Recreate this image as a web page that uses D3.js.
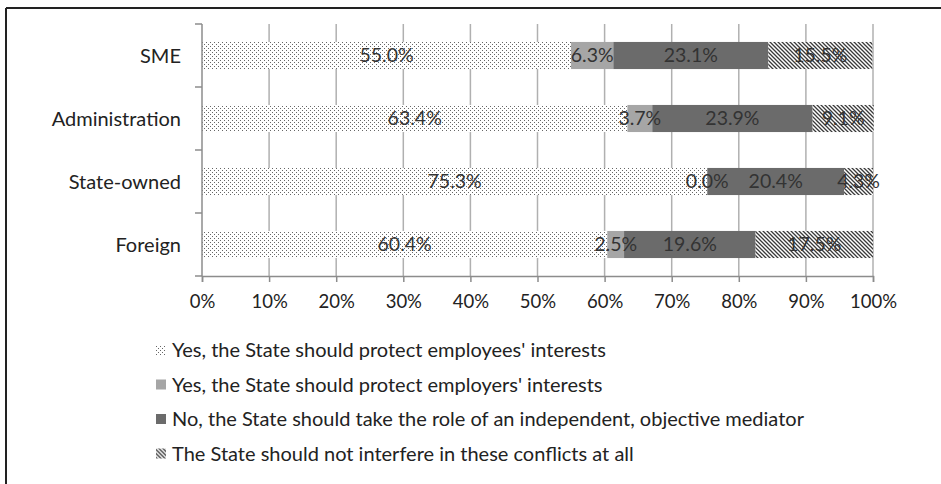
<!DOCTYPE html>
<html>
<head>
<meta charset="utf-8">
<script src="https://cdn.jsdelivr.net/npm/d3@7"></script>
<style>
  html, body { margin: 0; padding: 0; background: #fff; }
  svg { display: block; font-family: Lato, "Open Sans", sans-serif; }
</style>
</head>
<body>
<svg id="chart" width="941" height="484"></svg>
<script>
// Survey answers by company type (percent of respondents)
const categories = ["SME", "Administration", "State-owned", "Foreign"];
const seriesNames = [
  "Yes, the State should protect employees' interests",
  "Yes, the State should protect employers' interests",
  "No, the State should take the role of an independent, objective mediator",
  "The State should not interfere in these conflicts at all"
];
const employeesValues = [55.0, 63.4, 75.3, 60.4];
const employersValues = [6.3, 3.7, 0.0, 2.5];
const mediatorValues  = [23.1, 23.9, 20.4, 19.6];
const noInterfereValues = [15.5, 9.1, 4.3, 17.5];
const xTicks = [0, 10, 20, 30, 40, 50, 60, 70, 80, 90, 100];

const seriesValues = [employeesValues, employersValues, mediatorValues, noInterfereValues];
const fills = ["url(#dots)", "#a6a6a6", "#6b6b6b", "url(#hatch)"];

const svg = d3.select("#chart");

// Fill patterns
const defs = svg.append("defs");
const dots = defs.append("pattern").attr("id", "dots")
  .attr("patternUnits", "userSpaceOnUse").attr("width", 4).attr("height", 4);
dots.append("rect").attr("width", 4).attr("height", 4).attr("fill", "#fff");
dots.append("rect").attr("x", 0).attr("y", 0).attr("width", 1).attr("height", 1).attr("fill", "#666");
dots.append("rect").attr("x", 2).attr("y", 2).attr("width", 1).attr("height", 1).attr("fill", "#666");

const hatch = defs.append("pattern").attr("id", "hatch")
  .attr("patternUnits", "userSpaceOnUse").attr("width", 4).attr("height", 4);
hatch.append("rect").attr("width", 4).attr("height", 4).attr("fill", "#fff");
hatch.append("path").attr("d", "M-1,-1 L5,5 M-1,3 L1,5 M3,-1 L5,1")
  .attr("stroke", "#3a3a3a").attr("stroke-width", 1.3);

// Frame lines
svg.append("line").attr("x1", 6).attr("x2", 941).attr("y1", 8).attr("y2", 8)
  .attr("stroke", "#222").attr("stroke-width", 2);
svg.append("line").attr("x1", 6).attr("x2", 6).attr("y1", 8).attr("y2", 484)
  .attr("stroke", "#222").attr("stroke-width", 2);

const x = d3.scaleLinear().domain([0, 100]).range([202, 873]);
const y = d3.scaleBand().domain(categories).range([24, 276])
  .paddingInner(0.57).paddingOuter(0.285);

const plotTop = y.range()[0], plotBottom = y.range()[1];

// Vertical gridlines
svg.append("g").selectAll("line").data(xTicks.slice(1)).join("line")
  .attr("x1", d => x(d)).attr("x2", d => x(d))
  .attr("y1", plotTop).attr("y2", plotBottom)
  .attr("stroke", "#b0b0b0").attr("stroke-width", 1.5);

// Stacked bars
const rows = categories.map((c, i) => {
  let acc = 0;
  return seriesValues.map((vals, s) => {
    const seg = { cat: c, s, v: vals[i], x0: acc, x1: acc + vals[i] };
    acc += vals[i];
    return seg;
  });
}).flat();

svg.append("g").selectAll("rect").data(rows).join("rect")
  .attr("x", d => x(d.x0))
  .attr("width", d => Math.max(0, x(d.x1) - x(d.x0)))
  .attr("y", d => y(d.cat))
  .attr("height", y.bandwidth())
  .attr("fill", d => fills[d.s]);

// Value labels centred in each segment
svg.append("g").selectAll("text").data(rows).join("text")
  .attr("x", d => x((d.x0 + d.x1) / 2))
  .attr("y", d => y(d.cat) + y.bandwidth() / 2)
  .attr("dy", "0.35em")
  .attr("text-anchor", "middle")
  .attr("font-size", 19.5)
  .attr("fill", "#333")
  .text(d => d.v.toFixed(1) + "%");

// Left axis: line, ticks between categories, labels
const axisColor = "#8c8c8c";
svg.append("line").attr("x1", x(0)).attr("x2", x(0))
  .attr("y1", plotTop).attr("y2", plotBottom)
  .attr("stroke", axisColor).attr("stroke-width", 1.5);
const catEdges = d3.range(categories.length + 1).map(i => plotTop + i * y.step());
svg.append("g").selectAll("line").data(catEdges).join("line")
  .attr("x1", x(0) - 7).attr("x2", x(0))
  .attr("y1", d => d).attr("y2", d => d)
  .attr("stroke", axisColor).attr("stroke-width", 1.5);
svg.append("g").selectAll("text").data(categories).join("text")
  .attr("x", 181)
  .attr("y", d => y(d) + y.bandwidth() / 2)
  .attr("dy", "0.35em")
  .attr("text-anchor", "end")
  .attr("font-size", 20)
  .attr("fill", "#222")
  .text(d => d);

// Bottom axis
const xAxis = d3.axisBottom(x).tickValues(xTicks).tickSize(6).tickFormat(d => d + "%");
const gx = svg.append("g").attr("transform", `translate(0,${plotBottom})`).call(xAxis);
gx.select(".domain").attr("stroke", axisColor).attr("stroke-width", 1.5);
gx.selectAll(".tick line").attr("stroke", axisColor).attr("stroke-width", 1.5);
gx.selectAll(".tick text").attr("font-size", 18.5).attr("fill", "#222")
  .attr("font-family", "Lato, sans-serif").attr("y", 19);

// Legend
const legend = svg.append("g");
const legendRows = legend.selectAll("g").data(seriesNames).join("g")
  .attr("transform", (d, i) => `translate(156,${350 + i * 34.5})`);
legendRows.append("rect").attr("x", 0).attr("y", -5).attr("width", 10).attr("height", 10)
  .attr("fill", (d, i) => fills[i]);
legendRows.append("text").attr("x", 16).attr("dy", "0.35em")
  .attr("font-size", 20).attr("fill", "#222")
  .text(d => d);
</script>
</body>
</html>
